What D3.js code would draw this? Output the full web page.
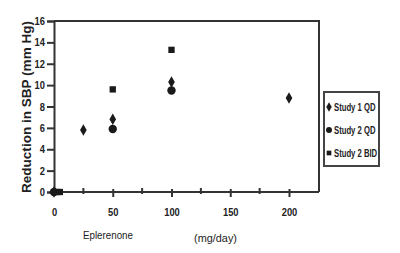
<!DOCTYPE html>
<html>
<head>
<meta charset="utf-8">
<script src="https://cdn.jsdelivr.net/npm/d3@7"></script>
<style>
  body { margin: 0; background: #fff; }
  .tick text { font-family: "Liberation Sans", Arial, sans-serif; font-weight: bold; font-size: 11px; fill: #222; }
  .lbl { font-family: "Liberation Sans", Arial, sans-serif; fill: #222; }
</style>
</head>
<body>
<div class="canvas"></div>
<script>
// doses (mg/day) and SBP reduction (mm Hg)
var study1Dose = [0, 25, 50, 100, 200];
var study1Val  = [0, 5.8, 6.8, 10.3, 8.8];

var study2Dose = [0, 50, 100];
var study2Val  = [0, 5.9, 9.5];

var bidDose = [2.5, 5, 50, 100];
var bidVal  = [0, 0, 9.6, 13.3];

var xMajor = [0, 50, 100, 150, 200];
var xMinor = [25, 75, 125, 175];
var yTicks = [0, 2, 4, 6, 8, 10, 12, 14, 16];

var legendNames = ["Study 1 QD", "Study 2 QD", "Study 2 BID"];

var narrow = 0.85;

var svg = d3.select(".canvas")
	.append("svg")
	.attr("width", 400)
	.attr("height", 253);

var x = d3.scaleLinear().domain([0, 200]).range([54, 289]);
var y = d3.scaleLinear().domain([0, 16]).range([192, 21]);

// box top + right
svg.append("path")
	.attr("d", "M54,21H319V192")
	.attr("fill", "none")
	.attr("stroke", "#333")
	.attr("stroke-width", 2);

// y axis
var yAx = svg.append("g")
	.attr("transform", "translate(54,0)")
	.call(d3.axisLeft(y).tickValues(yTicks).tickSize(7).tickPadding(2));
yAx.select(".domain").attr("stroke", "#333").attr("stroke-width", 2);
yAx.selectAll(".tick line").attr("stroke", "#333").attr("stroke-width", 2);
yAx.selectAll(".tick text")
	.attr("x", -9 / narrow)
	.attr("transform", "scale(" + narrow + ",1)");

// x axis
var xAx = svg.append("g")
	.attr("transform", "translate(0,192)")
	.call(d3.axisBottom(x).tickValues(xMajor).tickSize(5).tickPadding(11));
xAx.select(".domain").attr("d", "M54,0H319").attr("stroke", "#333").attr("stroke-width", 2);
xAx.selectAll(".tick line").attr("y1", -3).attr("y2", 5).attr("stroke", "#333").attr("stroke-width", 2);
xAx.selectAll(".tick").filter(function(d){ return d === 0; }).select("line").remove();
xAx.selectAll(".tick text").attr("transform", "scale(" + narrow + ",1)");

svg.append("g").selectAll("line")
	.data(xMinor)
	.enter().append("line")
	.attr("x1", function(d){ return x(d); })
	.attr("x2", function(d){ return x(d); })
	.attr("y1", 188)
	.attr("y2", 194)
	.attr("stroke", "#333")
	.attr("stroke-width", 2);

// axis titles
svg.append("text")
	.attr("class", "lbl")
	.attr("transform", "translate(31,107) rotate(-90)")
	.attr("text-anchor", "middle")
	.attr("textLength", 172)
	.attr("lengthAdjust", "spacingAndGlyphs")
	.style("font-weight", "bold")
	.style("font-size", "12.5px")
	.text("Reduction in SBP (mm Hg)");

svg.append("text")
	.attr("class", "lbl")
	.attr("x", 83)
	.attr("y", 239)
	.attr("textLength", 50)
	.attr("lengthAdjust", "spacingAndGlyphs")
	.style("font-size", "11px")
	.text("Eplerenone");

svg.append("text")
	.attr("class", "lbl")
	.attr("x", 194)
	.attr("y", 242)
	.attr("textLength", 43)
	.attr("lengthAdjust", "spacingAndGlyphs")
	.style("font-size", "11px")
	.text("(mg/day)");

// points
var diamond = d3.symbol().type(d3.symbolDiamond).size(38);
var square = d3.symbol().type(d3.symbolSquare).size(40);

var s1 = study1Dose.map(function(d, i){ return [d, study1Val[i]]; });
var s2 = study2Dose.map(function(d, i){ return [d, study2Val[i]]; });
var s3 = bidDose.map(function(d, i){ return [d, bidVal[i]]; });

svg.append("g").selectAll("path")
	.data(s3)
	.enter().append("path")
	.attr("d", square)
	.attr("transform", function(d){ return "translate(" + x(d[0]) + "," + y(d[1]) + ")"; })
	.attr("fill", "#1a1a1a");

svg.append("g").selectAll("circle")
	.data(s2)
	.enter().append("circle")
	.attr("cx", function(d){ return x(d[0]); })
	.attr("cy", function(d){ return y(d[1]); })
	.attr("r", 4.2)
	.attr("fill", "#1a1a1a");

svg.append("g").selectAll("path")
	.data(s1)
	.enter().append("path")
	.attr("d", diamond)
	.attr("transform", function(d){ return "translate(" + x(d[0]) + "," + y(d[1]) + ")"; })
	.attr("fill", "#1a1a1a");

// legend
var leg = svg.append("g");
leg.append("rect")
	.attr("x", 324)
	.attr("y", 92)
	.attr("width", 55)
	.attr("height", 74)
	.attr("fill", "#fff")
	.attr("stroke", "#444")
	.attr("stroke-width", 2);

var legY = d3.scalePoint().domain(legendNames).range([107, 153]);

leg.append("path")
	.attr("d", d3.symbol().type(d3.symbolDiamond).size(26))
	.attr("transform", "translate(329," + legY(legendNames[0]) + ")")
	.attr("fill", "#1a1a1a");
leg.append("circle")
	.attr("cx", 329)
	.attr("cy", legY(legendNames[1]))
	.attr("r", 3)
	.attr("fill", "#1a1a1a");
leg.append("path")
	.attr("d", d3.symbol().type(d3.symbolSquare).size(22))
	.attr("transform", "translate(329," + legY(legendNames[2]) + ")")
	.attr("fill", "#1a1a1a");

leg.selectAll("text.item")
	.data(legendNames)
	.enter().append("text")
	.attr("class", "lbl item")
	.attr("transform", function(d){ return "translate(334," + (legY(d) + 4) + ") scale(0.7,1)"; })
	.style("font-weight", "bold")
	.style("font-size", "11px")
	.text(function(d){ return d; });
</script>
</body>
</html>
